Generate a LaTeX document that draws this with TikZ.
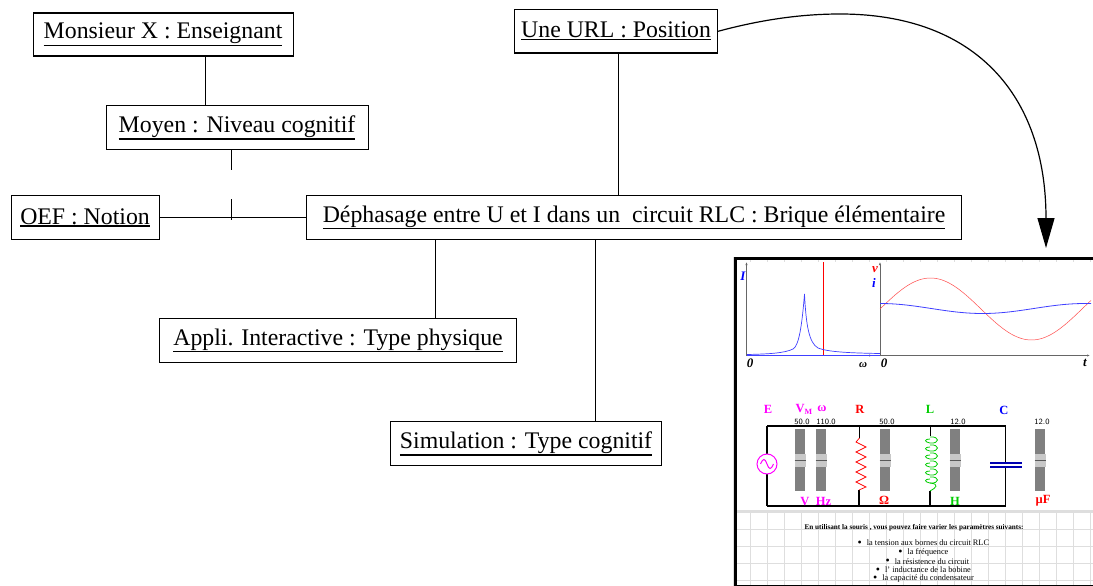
\documentclass[tikz,border=0pt]{standalone}
\usepackage{fontspec}
\setmainfont{Liberation Serif}
\usetikzlibrary{arrows.meta}
\definecolor{gridc}{RGB}{222,222,222}
\definecolor{barc}{RGB}{128,128,128}
\definecolor{knobc}{RGB}{200,200,200}
\definecolor{magc}{RGB}{255,0,255}
\definecolor{grnc}{RGB}{0,205,0}
\newcommand{\souligne}[1]{\vtop{\hbox{#1}\kern0.6pt\hrule height 1.5pt}}
\newcommand{\puce}{\llap{\raisebox{-0.6pt}{\fontsize{12}{12}\selectfont\textbullet}\hspace{5pt}}}
\tikzset{
    brique/.style = {rectangle, draw=black, line width=1.1pt, inner sep=0pt, anchor=north west, align=center, font=\fontsize{23.8}{26}\selectfont},
    lien/.style = {line width=1.2pt,draw=black},
    fil/.style = {line width=1.2pt,draw=black},
    barre/.style = {fill=barc,draw=none,minimum width=10pt,minimum height=62pt,inner sep=0pt},
    curseur/.style = {fill=knobc,draw=none,minimum width=11pt,minimum height=13pt,inner sep=0pt},
    unite/.style = {font=\fontsize{12.5}{13}\selectfont\bfseries,inner sep=0pt},
    valeur/.style = {font=\fontsize{8}{8}\selectfont\sffamily,inner sep=0pt},
    ligne/.style = {font=\fontsize{8.3}{9}\selectfont,inner sep=0pt},
    axe/.style = {font=\fontsize{13}{13}\selectfont\bfseries\itshape,inner sep=0pt}
}
\begin{document}
\begin{tikzpicture}[x=1pt,y=-1pt]
  \useasboundingbox (0,0) rectangle (1093,586);

  \node[brique,minimum width=260pt,minimum height=43pt] (monsieur) at (32.5,12.5) {\souligne{Monsieur X : Enseignant}};
  \node[brique,minimum width=262pt,minimum height=44pt] (moyen) at (105.5,105) {\souligne{Moyen : Niveau cognitif}};
  \node[brique,minimum width=148pt,minimum height=44pt] (oef) at (10.5,195) {\souligne{OEF : Notion}};
  \node[brique,minimum width=655pt,minimum height=44pt] (brique) at (306,195) {\souligne{Déphasage entre U et I dans un\ \ circuit RLC : Brique élémentaire}};
  \node[brique,minimum width=203pt,minimum height=43.5pt] (url) at (514,9) {\souligne{Une URL : Position}};
  \node[brique,minimum width=357pt,minimum height=44pt] (appli) at (159,318) {\souligne{Appli. Interactive : Type physique}};
  \node[brique,minimum width=271pt,minimum height=44pt] (simu) at (390,421) {\souligne{Simulation : Type cognitif}};

  \coordinate (coupe1) at (231.5,169.5);
  \coordinate (coupe2) at (231.5,199);
  \coordinate (pied) at (231.5,220);
  \coordinate (sommet) at (840,14);
  \coordinate (cible) at (1046,248);

  \draw[lien] (monsieur.south -| 205.5,0) -- (moyen.north -| 205.5,0);
  \draw[lien] (moyen.south -| coupe1) -- (coupe1);
  \draw[lien] (coupe2) -- (pied);
  \draw[lien] (oef.east) -- (brique.west);
  \draw[lien] (url.south -| 618.5,0) -- (brique.north -| 618.5,0);
  \draw[lien] (brique.south -| 435.5,0) -- (appli.north -| 435.5,0);
  \draw[lien] (brique.south -| 595.5,0) -- (simu.north -| 595.5,0);
  \draw[lien,-{Triangle[length=30pt,width=17pt]}] (url.east) .. controls (760,20) and (800,14) .. (sommet) .. controls (975,14) and (1046,95) .. (cible);

  % capture de l'applet
  \fill[white] (733,257) rectangle (1093,586);
  \draw[gridc,line width=0.5pt,step=17pt,shift={(733,257)}] (0,0) grid (360,329);
  \fill[white] (737,262) rectangle (1093,510);
  \fill[gridc] (737,510) rectangle (1093,513);
  \draw[black,line width=3pt] (735,586) -- (735,258.5) -- (1093,258.5);
  \draw[black,line width=1pt] (737,585.5) -- (1093,585.5);

  % courbes
  \draw[gray!80!black,line width=0.8pt,-{Latex[length=3pt]}] (746.5,356) -- (746.5,262);
  \draw[gray!80!black,line width=0.8pt,-{Latex[length=3pt]}] (746.5,355.5) -- (872,355.5);
  \draw[gray!80!black,line width=0.8pt,-{Latex[length=3pt]}] (880,356) -- (880,262);
  \draw[gray!80!black,line width=0.8pt,-{Latex[length=3pt]}] (880,355.5) -- (1090,355.5);
  \draw[red,line width=0.5pt] (823.5,262) -- (823.5,355);
  \draw[blue!75,line width=0.7pt] (747,354.5) .. controls (770,354) and (785,353) .. (793,349)
     .. controls (799,346) and (802,325) .. (804.5,294)
     .. controls (806,325) and (809,343) .. (818,348)
     .. controls (828,352) and (850,353) .. (880,353.5);
  \draw[blue!75,line width=0.7pt] (747,355) -- (880,355);
  \draw[red!70,line width=0.5pt] plot[domain=880:1091,samples=80] (\x,{309-31*sin(1.7822*(\x-880))});
  \draw[blue!75,line width=0.8pt] plot[domain=880:1091,samples=60] (\x,{308.5-5*cos(1.7561*(\x-880))});
  \node[axe,blue] (lbli) at (743,276) {I};
  \node[axe,red] (lblv) at (875,270) {v};
  \node[axe,blue] (lblc) at (874,283) {i};
  \node[axe] (zero1) at (750,363) {0};
  \node[axe,font=\fontsize{11}{12}\selectfont\bfseries\itshape] (omega) at (863,365) {ω};
  \node[axe] (zero2) at (884,363) {0};
  \node[axe] (temps) at (1085,363) {t};

  % circuit
  \draw[fil] (767,426) -- (1005.5,426) (767,506) -- (1005.5,506);
  \draw[fil] (767,426) -- (767,454) (767,474) -- (767,506);
  \draw[fil] (859.5,426) -- (859.5,438) (859,490) -- (859,506);
  \draw[fil] (930.5,426) -- (930.5,436) (930,491) -- (930,506);
  \draw[fil] (1005.5,426) -- (1005.5,463) (1005.5,467) -- (1005.5,506);
  \draw[magc,line width=1pt] (767,464) circle (10pt);
  \draw[magc,line width=1pt] (760.5,464) .. controls (763,458) and (765,458) .. (767,464) .. controls (769,470) and (771,470) .. (773.5,464);
  \draw[red,line width=0.7pt] (859.5,438) -- (856,442) -- (866,447) -- (856,452) -- (866,457) -- (856,462) -- (866,467) -- (856,472) -- (866,477) -- (856,482) -- (866,487) -- (859,490);
  \foreach \y in {437,445,...,477}
    \draw[grnc,line width=0.8pt] (930,\y) .. controls (940,\y-1) and (940,\y+7) .. (930,\y+6) .. controls (924,\y+5) and (924,\y+2) .. (930,\y+2);
  \draw[grnc,line width=0.8pt] (930,483) .. controls (940,484) and (936,488) .. (930,491);
  \draw[blue!70!black,line width=2pt] (990,463) -- (1021.5,463) (990,467) -- (1021.5,467);
  \foreach \x/\nom in {800/vm,821/om,885/res,955/ind,1040/cap}{
    \node[barre] (b\nom) at (\x,460) {};
    \node[curseur] (k\nom) at (\x,460.5) {};
    \draw[barc!70!black,line width=0.8pt] (\x-5.5,460.7) -- (\x+5.5,460.7);
  }
  \node[valeur] (v1) at (802,421.5) {50.0};
  \node[valeur] (v2) at (826,421.5) {110.0};
  \node[valeur] (v3) at (887,421.5) {50.0};
  \node[valeur] (v4) at (958,421.5) {12.0};
  \node[valeur] (v5) at (1042,421.5) {12.0};
  \node[unite,magc] (lE) at (768,409) {E};
  \node[unite,magc] (lVM) at (804,409) {V\raisebox{-2pt}{\fontsize{8}{8}\selectfont M}};
  \node[unite,magc] (lW) at (822,408.5) {ω};
  \node[unite,red] (lR) at (860,409) {R};
  \node[unite,grnc] (lL) at (930,409) {L};
  \node[unite,blue] (lC) at (1004,410) {C};
  \node[unite,magc] (uV) at (805,501) {V};
  \node[unite,magc] (uH) at (823.5,501) {Hz};
  \node[unite,red] (uO) at (884,500.5) {Ω};
  \node[unite,grnc] (uL) at (955,501) {H};
  \node[unite,red] (uF) at (1043,501) {µF};

  % texte
  \node[ligne,font=\fontsize{7.2}{8}\selectfont\bfseries] (t0) at (914,527.5) {En utilisant la souris , vous pouvez faire varier les paramètres suivants:};
  \node[ligne] (t1) at (928,543) {\puce la tension aux bornes du circuit RLC};
  \node[ligne] (t2) at (928,552.5) {\puce la fréquence};
  \node[ligne] (t3) at (932,561.5) {\puce la résistence du circuit};
  \node[ligne] (t4) at (928,570) {\puce l' inductance de la bobine};
  \node[ligne] (t5) at (928,578.5) {\puce la capacité du condensateur};
\end{tikzpicture}
\end{document}
